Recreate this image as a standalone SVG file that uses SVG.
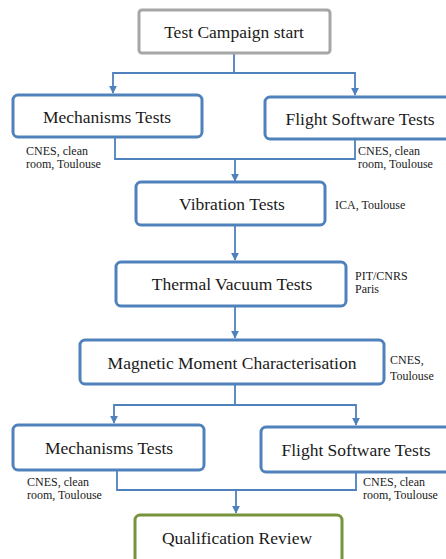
<svg xmlns="http://www.w3.org/2000/svg" width="446" height="559" viewBox="0 0 446 559">
<defs>
<marker id="arr" viewBox="0 0 10 10" refX="9" refY="5" markerWidth="8" markerHeight="8" markerUnits="userSpaceOnUse" orient="auto">
<path d="M0,0 L10,5 L0,10 z" fill="#4F81BD"/>
</marker>
</defs>
<style>
.box{fill:#fff;stroke:#4F81BD;stroke-width:3}
.gray{fill:#fff;stroke:#A6A6A6;stroke-width:3}
.green{fill:#fff;stroke:#77933C;stroke-width:3}
.t{font-family:"Liberation Serif",serif;font-size:17.5px;fill:#1a1a1a;text-anchor:middle;dominant-baseline:central}
.l{font-family:"Liberation Serif",serif;font-size:12px;fill:#1a1a1a}
.c{fill:none;stroke:#4F81BD;stroke-width:1.8}
</style>
<rect width="446" height="559" fill="#fff"/>
<g id="connectors">
<polyline class="c" points="234,53 234,73 113,73 113,93" marker-end="url(#arr)"/>
<polyline class="c" points="234,73 355,73 355,95" marker-end="url(#arr)"/>
<polyline class="c" points="115,137 115,159 355,159 355,139"/>
<line class="c" x1="235" y1="159" x2="235" y2="181" marker-end="url(#arr)"/>
<line class="c" x1="235" y1="225" x2="235" y2="260" marker-end="url(#arr)"/>
<line class="c" x1="235" y1="306" x2="235" y2="338" marker-end="url(#arr)"/>
<polyline class="c" points="235,384 235,405 114,405 114,423" marker-end="url(#arr)"/>
<polyline class="c" points="235,405 356,405 356,425" marker-end="url(#arr)"/>
<polyline class="c" points="117,470 117,490 356,490 356,472"/>
<line class="c" x1="236" y1="490" x2="236" y2="513" marker-end="url(#arr)"/>
</g>
<g id="start">
<rect class="gray" x="139" y="10" width="191" height="43" rx="3"/>
<text class="t" x="234" y="32">Test Campaign start</text>
</g>
<g id="mech1">
<rect class="box" x="13" y="95" width="189" height="42" rx="5"/>
<text class="t" x="107" y="117">Mechanisms Tests</text>
<text class="l" x="26" y="155">CNES, clean</text>
<text class="l" x="26" y="168">room, Toulouse</text>
</g>
<g id="fsw1">
<rect class="box" x="265" y="97" width="190" height="42" rx="5"/>
<text class="t" x="360" y="119">Flight Software Tests</text>
<text class="l" x="358" y="155">CNES, clean</text>
<text class="l" x="358" y="168">room, Toulouse</text>
</g>
<g id="vibration">
<rect class="box" x="136" y="182" width="189" height="43" rx="5"/>
<text class="t" x="232" y="204">Vibration Tests</text>
<text class="l" x="335" y="209">ICA, Toulouse</text>
</g>
<g id="thermal">
<rect class="box" x="116" y="262" width="230" height="44" rx="5"/>
<text class="t" x="232" y="284">Thermal Vacuum Tests</text>
<text class="l" x="355" y="280">PIT/CNRS</text>
<text class="l" x="355" y="293">Paris</text>
</g>
<g id="magnetic">
<rect class="box" x="80" y="340" width="304" height="44" rx="5"/>
<text class="t" x="232" y="363">Magnetic Moment Characterisation</text>
<text class="l" x="390" y="364">CNES,</text>
<text class="l" x="390" y="380">Toulouse</text>
</g>
<g id="mech2">
<rect class="box" x="13" y="425" width="191" height="45" rx="5"/>
<text class="t" x="109" y="448">Mechanisms Tests</text>
<text class="l" x="27" y="486">CNES, clean</text>
<text class="l" x="27" y="499">room, Toulouse</text>
</g>
<g id="fsw2">
<rect class="box" x="261" y="427" width="194" height="45" rx="5"/>
<text class="t" x="356" y="450">Flight Software Tests</text>
<text class="l" x="363" y="486">CNES, clean</text>
<text class="l" x="363" y="499">room, Toulouse</text>
</g>
<g id="qualification">
<rect class="green" x="135" y="515" width="207" height="60" rx="5"/>
<text class="t" x="237" y="538">Qualification Review</text>
</g>
</svg>
